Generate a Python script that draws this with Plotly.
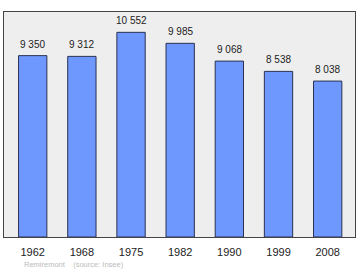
import plotly.graph_objects as go

years = ["1962", "1968", "1975", "1982", "1990", "1999", "2008"]
population = [9350, 9312, 10552, 9985, 9068, 8538, 8038]
value_labels = ["9 350", "9 312", "10 552", "9 985", "9 068", "8 538", "8 038"]
source_text = "Remiremont    (source: Insee)"

fig = go.Figure()
fig.add_trace(go.Bar(
    x=list(range(len(years))),
    y=population,
    width=0.576,
    marker=dict(color="#6f98fe", line=dict(color="#2a3152", width=1)),
    hoverinfo="skip",
))

for i, (v, lab) in enumerate(zip(population, value_labels)):
    fig.add_annotation(x=i, y=v, text=lab, showarrow=False, yanchor="bottom",
                       yshift=4, font=dict(size=10, color="#222222"))

fig.add_annotation(xref="paper", yref="paper", x=0.052, y=-0.093, text=source_text,
                   showarrow=False, xanchor="left", yanchor="top",
                   font=dict(size=7.5, color="#bbbbbb"))

fig.update_layout(
    width=360, height=270,
    margin=dict(l=4, r=5, t=12, b=33),
    paper_bgcolor="white",
    plot_bgcolor="#eeeeee",
    showlegend=False,
    font=dict(family="Liberation Sans, Arial, sans-serif"),
    xaxis=dict(
        range=[-0.584, 6.556],
        tickvals=list(range(len(years))),
        ticktext=years,
        showgrid=False, zeroline=False,
        showline=True, mirror=True, linecolor="#444444", linewidth=1.2,
        ticks="", ticklen=0, ticklabelstandoff=5,
        tickfont=dict(size=11, color="#222222"),
    ),
    yaxis=dict(
        range=[0, 11600],
        showgrid=False, zeroline=False,
        showline=True, mirror=True, linecolor="#444444", linewidth=1.2,
        showticklabels=False, ticks="",
    ),
)

fig.write_html("out.html")
